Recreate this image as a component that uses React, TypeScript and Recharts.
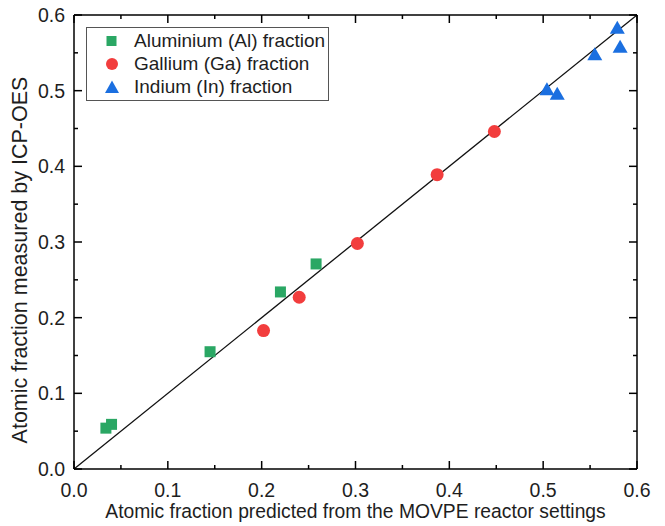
import React from 'react';
import { ScatterChart, Scatter, XAxis, YAxis, ReferenceLine, Label } from 'recharts';

const aluminium = [
  { x: 0.034, y: 0.054 },
  { x: 0.04, y: 0.059 },
  { x: 0.145, y: 0.155 },
  { x: 0.22, y: 0.234 },
  { x: 0.258, y: 0.271 },
];

const gallium = [
  { x: 0.202, y: 0.183 },
  { x: 0.24, y: 0.227 },
  { x: 0.302, y: 0.298 },
  { x: 0.387, y: 0.389 },
  { x: 0.448, y: 0.446 },
];

const indium = [
  { x: 0.504, y: 0.502 },
  { x: 0.515, y: 0.496 },
  { x: 0.555, y: 0.548 },
  { x: 0.579, y: 0.583 },
  { x: 0.582, y: 0.558 },
];

const axisTicks = [0, 0.05, 0.1, 0.15, 0.2, 0.25, 0.3, 0.35, 0.4, 0.45, 0.5, 0.55, 0.6];
const diagonal = [{ x: 0, y: 0 }, { x: 0.6, y: 0.6 }];

const FONT = '"Liberation Sans", Arial, sans-serif';
const TEXT = '#1e1e1e';
const GREEN = '#2aa764';
const RED = '#f23d3d';
const BLUE = '#1b6fe0';
const TICK_FS = 19.5;

const isMajor = (v: number) => Math.abs(v * 10 - Math.round(v * 10)) < 1e-6;

const SquareDot = ({ cx, cy, fill }: any) => <rect x={cx - 5.5} y={cy - 5.5} width={11} height={11} fill={fill} />;
const CircleDot = ({ cx, cy, fill }: any) => <circle cx={cx} cy={cy} r={6.5} fill={fill} />;
const TriangleDot = ({ cx, cy, fill }: any) => (
  <polygon points={`${cx},${cy - 7} ${cx - 7.5},${cy + 6} ${cx + 7.5},${cy + 6}`} fill={fill} />
);

const BottomTick = ({ x, y, payload }: any) => {
  const major = isMajor(payload.value);
  return (
    <g>
      <line x1={x} x2={x} y1={y} y2={y - (major ? 8 : 4)} stroke="#000" strokeWidth={1.5} />
      {major && (
        <text x={x} y={y + 28} textAnchor="middle" fontSize={TICK_FS} fontFamily={FONT} fill={TEXT}>
          {payload.value.toFixed(1)}
        </text>
      )}
    </g>
  );
};

const TopTick = ({ x, y, payload }: any) => (
  <line x1={x} x2={x} y1={y} y2={y + (isMajor(payload.value) ? 8 : 4)} stroke="#000" strokeWidth={1.5} />
);

const LeftTick = ({ x, y, payload }: any) => {
  const major = isMajor(payload.value);
  return (
    <g>
      <line x1={x} x2={x + (major ? 8 : 4)} y1={y} y2={y} stroke="#000" strokeWidth={1.5} />
      {major && (
        <text x={x - 9} y={y + 7} textAnchor="end" fontSize={TICK_FS} fontFamily={FONT} fill={TEXT}>
          {payload.value.toFixed(1)}
        </text>
      )}
    </g>
  );
};

const RightTick = ({ x, y, payload }: any) => (
  <line x1={x} x2={x - (isMajor(payload.value) ? 8 : 4)} y1={y} y2={y} stroke="#000" strokeWidth={1.5} />
);

const legendItems = [
  { name: 'Aluminium (Al) fraction', color: GREEN, shape: 'square' },
  { name: 'Gallium (Ga) fraction', color: RED, shape: 'circle' },
  { name: 'Indium (In) fraction', color: BLUE, shape: 'triangle' },
];

const LegendBox = () => (
  <div
    style={{
      position: 'absolute',
      left: 86,
      top: 27,
      width: 243,
      height: 74,
      boxSizing: 'border-box',
      border: '1px solid #555',
      background: '#fff',
      paddingTop: 1,
      fontFamily: FONT,
      fontSize: 19,
      color: TEXT,
    }}
  >
    {legendItems.map((it) => (
      <div key={it.name} style={{ height: 23.3, display: 'flex', alignItems: 'center' }}>
        <svg width={47} height={16} style={{ flex: 'none' }}>
          {it.shape === 'square' && <rect x={19.5} y={3} width={10} height={10} fill={it.color} />}
          {it.shape === 'circle' && <circle cx={25} cy={8} r={6} fill={it.color} />}
          {it.shape === 'triangle' && <polygon points="25,1.5 18,14 32,14" fill={it.color} />}
        </svg>
        <span style={{ whiteSpace: 'nowrap' }}>{it.name}</span>
      </div>
    ))}
  </div>
);

export default function App() {
  return (
    <div style={{ position: 'absolute', left: 0, top: 0, width: 665, height: 526, background: '#fff' }}>
      <ScatterChart width={665} height={526} margin={{ top: 0, right: 0, bottom: 0, left: 0 }}>
        <XAxis
          xAxisId="bottom"
          type="number"
          dataKey="x"
          domain={[0, 0.6]}
          ticks={axisTicks}
          interval={0}
          allowDataOverflow
          height={57}
          tickSize={0}
          tickMargin={0}
          tickLine={false}
          axisLine={{ stroke: '#000', strokeWidth: 1.5 }}
          tick={<BottomTick />}
        >
          <Label
            content={({ viewBox }: any) => (
              <text
                x={viewBox.x + viewBox.width / 2}
                y={viewBox.y + 49}
                textAnchor="middle"
                fontSize={19.3}
                fontFamily={FONT}
                fill={TEXT}
              >
                Atomic fraction predicted from the MOVPE reactor settings
              </text>
            )}
          />
        </XAxis>
        <XAxis
          xAxisId="top"
          orientation="top"
          type="number"
          dataKey="x"
          domain={[0, 0.6]}
          ticks={axisTicks}
          interval={0}
          allowDataOverflow
          height={15}
          tickSize={0}
          tickMargin={0}
          tickLine={false}
          axisLine={{ stroke: '#000', strokeWidth: 1.5 }}
          tick={<TopTick />}
        />
        <YAxis
          yAxisId="left"
          type="number"
          dataKey="y"
          domain={[0, 0.6]}
          ticks={axisTicks}
          interval={0}
          allowDataOverflow
          width={74}
          tickSize={0}
          tickMargin={0}
          tickLine={false}
          axisLine={{ stroke: '#000', strokeWidth: 1.5 }}
          tick={<LeftTick />}
        >
          <Label
            content={({ viewBox }: any) => {
              const cx = 20;
              const cy = viewBox.y + viewBox.height / 2 + 18;
              return (
                <text
                  x={cx}
                  y={cy}
                  transform={`rotate(-90 ${cx} ${cy})`}
                  textAnchor="middle"
                  dominantBaseline="central"
                  fontSize={21.5}
                  fontFamily={FONT}
                  fill={TEXT}
                >
                  Atomic fraction measured by ICP-OES
                </text>
              );
            }}
          />
        </YAxis>
        <YAxis
          yAxisId="right"
          orientation="right"
          type="number"
          dataKey="y"
          domain={[0, 0.6]}
          ticks={axisTicks}
          interval={0}
          allowDataOverflow
          width={28}
          tickSize={0}
          tickMargin={0}
          tickLine={false}
          axisLine={{ stroke: '#000', strokeWidth: 1.5 }}
          tick={<RightTick />}
        />
        <ReferenceLine
          xAxisId="bottom"
          yAxisId="left"
          segment={diagonal}
          stroke="#111"
          strokeWidth={1.3}
          ifOverflow="visible"
        />
        <Scatter
          name="diag-top"
          xAxisId="top"
          yAxisId="right"
          data={diagonal}
          shape={() => null}
          legendType="none"
          isAnimationActive={false}
        />
        <Scatter
          name="Aluminium (Al) fraction"
          xAxisId="bottom"
          yAxisId="left"
          data={aluminium}
          fill={GREEN}
          shape={<SquareDot />}
          isAnimationActive={false}
        />
        <Scatter
          name="Gallium (Ga) fraction"
          xAxisId="bottom"
          yAxisId="left"
          data={gallium}
          fill={RED}
          shape={<CircleDot />}
          isAnimationActive={false}
        />
        <Scatter
          name="Indium (In) fraction"
          xAxisId="bottom"
          yAxisId="left"
          data={indium}
          fill={BLUE}
          shape={<TriangleDot />}
          isAnimationActive={false}
        />
      </ScatterChart>
      <LegendBox />
    </div>
  );
}
